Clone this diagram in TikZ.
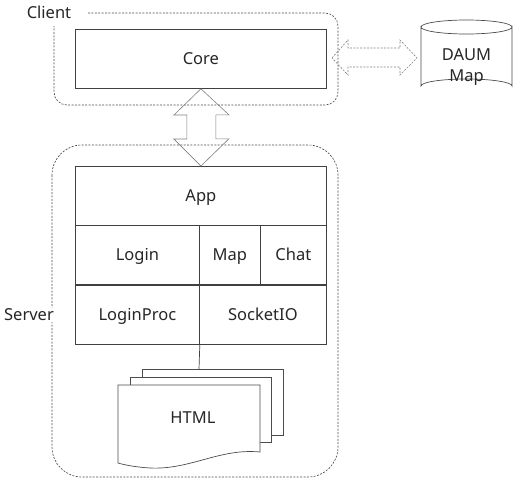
\documentclass[tikz,border=0pt]{standalone}
\usepackage{fontspec}
\setmainfont{Noto Sans}
\usetikzlibrary{calc}
\begin{document}
\begin{tikzpicture}[x=1pt,y=-1pt,
  every node/.style={font=\fontsize{16.5}{20}\selectfont, text=black!85},
  lbl/.style={text height=11.8pt, text depth=0pt},
  blk/.style={lbl, draw=black!75, line width=0.8pt, minimum width=#1, inner sep=0pt, minimum height=59pt, anchor=north west},
  grp/.style={draw=black!70, line width=0.65pt, dash pattern=on 2pt off 1.4pt},
  arr/.style={draw=black!50, line width=0.6pt, line join=miter},
  doc/.style={draw=black!70, line width=0.7pt, fill=white}]
\useasboundingbox (0,0) rectangle (513,480);
% groups
\draw[grp, rounded corners=13] (88,13) -- (338,13) -- (338,105) -- (54,105) -- (54,26);
\node[lbl] (client) at (49,13) {Client};
\draw[grp, rounded corners=30] (52,145) rectangle (338,477);
\node[lbl, fill=white, inner sep=1pt] (server) at (29,315) {Server};
% client
\node[blk=251pt] (core) at (75,29) {Core};
% server blocks
\node[blk=251pt] (app) at (75,166) {App};
\node[blk=124pt] (login) at (75,225) {Login};
\node[blk=61pt] (map) at (199,225) {Map};
\node[blk=66pt] (chat) at (260,225) {Chat};
\node[blk=124pt] (loginproc) at (75,285) {LoginProc};
\node[blk=127pt] (socketio) at (199,285) {SocketIO};
% DAUM Map cylinder
\draw[doc] (421,27) -- (421,86) arc[start angle=180, end angle=360, x radius=45.5, y radius=7] -- (512,27)
  arc[start angle=0, end angle=180, x radius=45.5, y radius=7] -- cycle;
\draw[doc] (421,27) arc[start angle=180, end angle=360, x radius=45.5, y radius=7];
\node[lbl] (daum) at (466.5,55) {DAUM};
\node[lbl] (daummap) at (466.5,76) {Map};
% HTML stack
\draw[doc] (142,369) -- (283,369) -- (283,435) -- (142,435) -- cycle;
\draw[doc] (130,377) -- (271,377) -- (271,442) -- (130,442) -- cycle;
\draw[doc] (118,385) -- (260,385) -- (260,452) .. controls (220,448) and (190,470) .. (150,468)
  .. controls (135,467) and (125,465) .. (118,463) -- cycle;
\node[lbl] (html) at (193,418) {HTML};
\coordinate (htmltop) at (199,369);
\draw[black!75, line width=0.7pt] (loginproc.south east) -- (htmltop);
% arrows
\draw[arr] (core.south) -- ++(28,26) -- ++(-13,0) -- ++(0,24) -- ++(13,0) -- (app.north)
  -- ++(-27,-27) -- ++(13,0) -- ++(0,-24) -- ++(-13,0) -- cycle;
\draw[arr, dash pattern=on 2pt off 1.4pt] (332,58) -- (348,40) -- (348,48) -- (400,48) -- (400,40) -- (417,58)
  -- (400,75) -- (400,67) -- (348,67) -- (348,75) -- cycle;
\end{tikzpicture}
\end{document}
